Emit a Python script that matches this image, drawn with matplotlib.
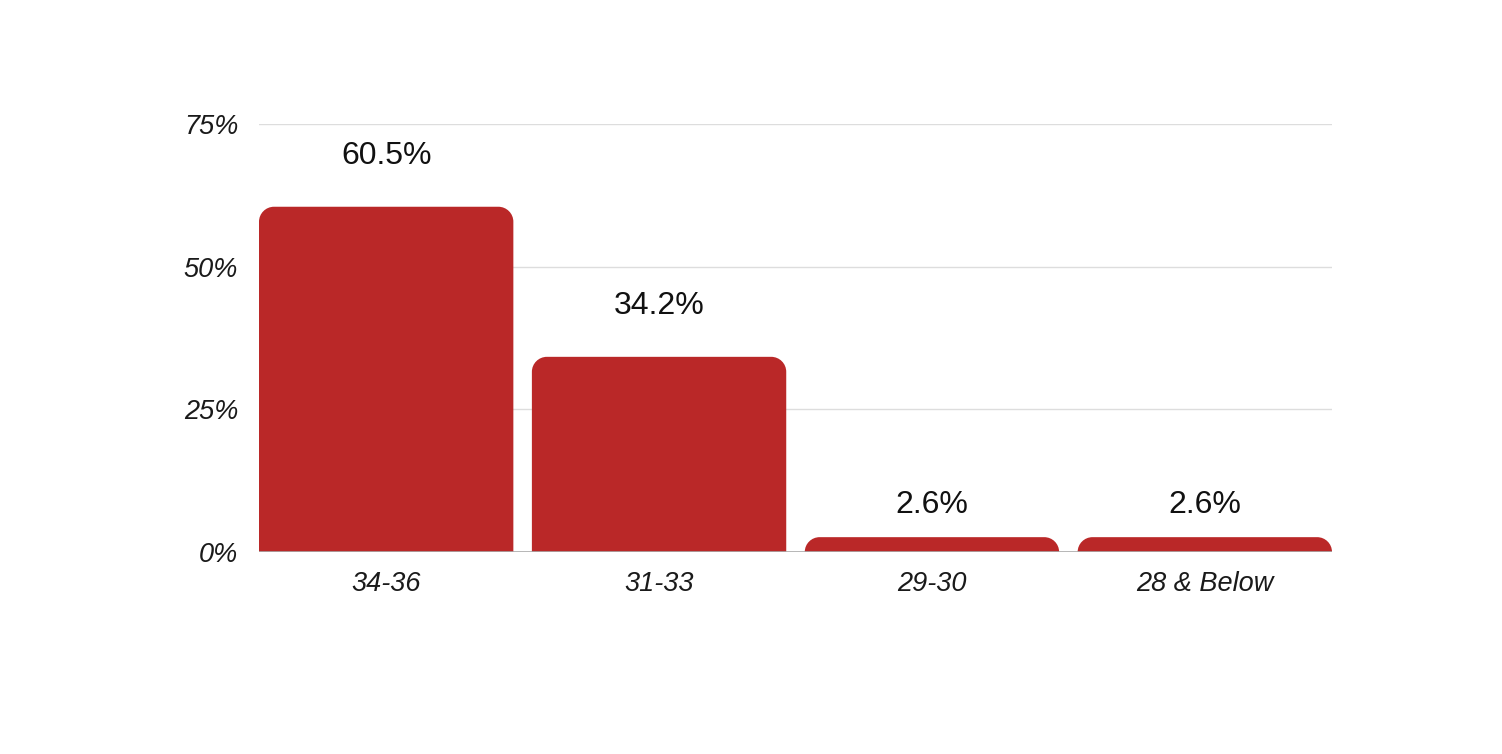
import matplotlib
matplotlib.use("Agg")
import matplotlib.pyplot as plt
from matplotlib.path import Path
from matplotlib.patches import PathPatch

# data
categories = ["34-36", "31-33", "29-30", "28 & Below"]
values = [60.5, 34.2, 2.6, 2.6]
yticks = [0, 25, 50, 75]
ytick_labels = ["0%", "25%", "50%", "75%"]

bar_color = "#ba2828"
plt.rcParams["font.family"] = ["Liberation Sans", "DejaVu Sans"]

fig = plt.figure(figsize=(15.02, 7.54), dpi=100)
ax = fig.add_axes([259 / 1502, 1 - 552 / 754, (1332 - 259) / 1502, (552 - 124) / 754])

# bars fill the plot edge to edge with small gaps between them
step_px = 272.5
bar_px = 254
bar_w = bar_px / step_px
ax.set_xlim(-bar_w / 2, len(categories) - 1 + bar_w / 2)
ax.set_ylim(0, 75)

# pixels per data unit, used to keep the corner radius round
px_x = (1332 - 259) / (len(categories) - 1 + bar_w)
px_y = (552 - 124) / 75.0


def rounded_bar(x, w, h, r_px=15):
    r = min(r_px, h * px_y)
    rx, ry = r / px_x, r / px_y
    k = 0.5523
    x0, x1 = x - w / 2, x + w / 2
    verts = [
        (x0, 0), (x0, h - ry),
        (x0, h - ry + k * ry), (x0 + rx - k * rx, h), (x0 + rx, h),
        (x1 - rx, h),
        (x1 - rx + k * rx, h), (x1, h - ry + k * ry), (x1, h - ry),
        (x1, 0), (x0, 0),
    ]
    codes = [Path.MOVETO, Path.LINETO,
             Path.CURVE4, Path.CURVE4, Path.CURVE4,
             Path.LINETO,
             Path.CURVE4, Path.CURVE4, Path.CURVE4,
             Path.LINETO, Path.CLOSEPOLY]
    return PathPatch(Path(verts, codes), facecolor=bar_color, edgecolor="none", zorder=3)


for i, v in enumerate(values):
    ax.add_patch(rounded_bar(i, bar_w, v))
    pad = 51 if v * px_y > 20 else 32
    ax.annotate(f"{v}%", (i, v), xytext=(0, pad * 0.72), textcoords="offset points",
                ha="center", va="center", fontsize=23, color="#111111")

for t in yticks[1:]:
    ax.axhline(t, color="#dddddd", lw=1, zorder=1)
ax.axhline(0, color="#aaaaaa", lw=1.2, zorder=4)

ax.set_yticks(yticks)
ax.set_yticklabels(ytick_labels, fontsize=19.5, fontstyle="italic", color="#1a1a1a")
ax.set_xticks(range(len(categories)))
ax.set_xticklabels(categories, fontsize=19.5, fontstyle="italic", color="#1a1a1a")
ax.tick_params(axis="y", length=0, pad=15)
ax.tick_params(axis="x", length=0, pad=14)
for s in ax.spines.values():
    s.set_visible(False)

fig.savefig("out.png", dpi=100)
